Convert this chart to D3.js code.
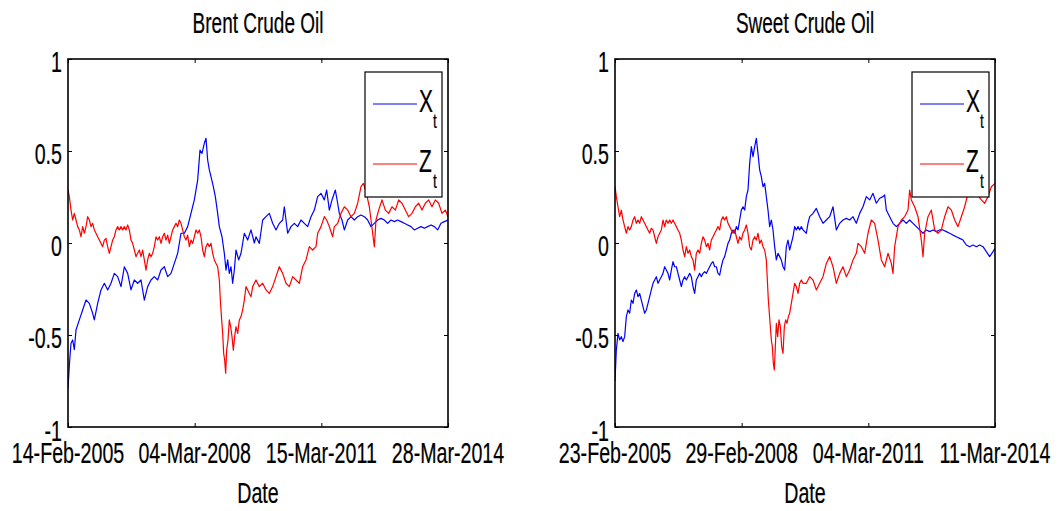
<!DOCTYPE html>
<html><head><meta charset="utf-8">
<script src="https://cdn.jsdelivr.net/npm/d3@7/dist/d3.min.js"></script>
<style>html,body{margin:0;padding:0;background:#fff;}svg{display:block;}</style>
</head><body>
<svg id="chart" width="1060" height="511"></svg>
<script>
// ---------- DATA ----------
const titles = ["Brent Crude Oil", "Sweet Crude Oil"];
const xTickLabelsBrent = ["14-Feb-2005", "04-Mar-2008", "15-Mar-2011", "28-Mar-2014"];
const xTickLabelsSweet = ["23-Feb-2005", "29-Feb-2008", "04-Mar-2011", "11-Mar-2014"];
const xTickObs = [0, 760, 1520, 2280];
const yTicks = [-1, -0.5, 0, 0.5, 1];
const seriesNames = ["X", "Z"];
const nObs = 2280;

// [observation index, value]
const brentX = [[0,-0.79],[10,-0.64],[18,-0.545],[28,-0.527],[38,-0.58],[48,-0.473],[68,-0.418],[88,-0.364],[108,-0.31],[128,-0.328],[148,-0.382],[158,-0.418],[178,-0.328],[198,-0.255],[218,-0.219],[238,-0.255],[258,-0.219],[278,-0.165],[298,-0.183],[318,-0.237],[338,-0.129],[358,-0.165],[378,-0.255],[398,-0.201],[418,-0.219],[438,-0.201],[458,-0.31],[478,-0.237],[498,-0.201],[518,-0.183],[538,-0.201],[558,-0.147],[578,-0.129],[598,-0.183],[618,-0.165],[638,-0.111],[658,-0.056],[678,0.053],[698,0.053],[718,0.089],[738,0.161],[758,0.234],[778,0.342],[792,0.505],[804,0.487],[818,0.542],[828,0.569],[838,0.451],[848,0.397],[858,0.361],[872,0.306],[884,0.252],[898,0.161],[908,0.089],[924,0.034],[938,-0.056],[948,-0.147],[958,-0.092],[968,-0.165],[978,-0.129],[988,-0.219],[998,-0.147],[1008,-0.038],[1024,-0.092],[1038,-0.056],[1058,0.053],[1078,0.016],[1098,0.071],[1118,0.0],[1128,0.034],[1148,-0.002],[1168,0.125],[1188,0.143],[1208,0.161],[1228,0.107],[1248,0.071],[1268,0.107],[1288,0.125],[1298,0.197],[1318,0.053],[1338,0.089],[1358,0.107],[1378,0.089],[1398,0.125],[1418,0.107],[1438,0.089],[1458,0.143],[1478,0.179],[1498,0.252],[1518,0.27],[1538,0.234],[1552,0.288],[1568,0.179],[1584,0.234],[1604,0.288],[1618,0.216],[1628,0.161],[1644,0.125],[1658,0.071],[1678,0.125],[1698,0.143],[1718,0.125],[1738,0.143],[1758,0.152],[1778,0.143],[1798,0.125],[1818,0.089],[1838,0.107],[1858,0.125],[1878,0.134],[1898,0.125],[1918,0.107],[1938,0.125],[1958,0.116],[1978,0.125],[1998,0.116],[2018,0.107],[2038,0.098],[2058,0.089],[2078,0.071],[2098,0.08],[2118,0.089],[2138,0.08],[2158,0.089],[2178,0.098],[2198,0.089],[2218,0.071],[2238,0.107],[2258,0.116],[2280,0.125]];

const brentZ = [[0,0.29],[8,0.252],[18,0.179],[28,0.125],[38,0.161],[48,0.125],[58,0.089],[68,0.071],[78,0.034],[88,0.089],[98,0.053],[108,0.089],[118,0.143],[128,0.125],[138,0.089],[148,0.107],[158,0.071],[168,0.053],[178,0.034],[188,0.016],[198,-0.002],[208,-0.02],[218,0.016],[228,0.025],[238,-0.02],[248,-0.056],[258,-0.02],[268,0.016],[278,0.034],[288,0.071],[298,0.089],[308,0.071],[318,0.089],[328,0.071],[338,0.089],[348,0.071],[358,0.098],[368,0.071],[378,0.016],[388,-0.002],[398,-0.038],[408,-0.074],[418,-0.056],[428,-0.038],[438,-0.074],[448,-0.038],[458,-0.092],[468,-0.147],[478,-0.092],[488,-0.056],[498,-0.074],[508,-0.056],[518,-0.02],[528,0.034],[538,0.016],[548,0.034],[558,-0.002],[568,0.034],[578,0.053],[588,0.016],[598,0.043],[608,-0.002],[618,0.034],[628,0.071],[638,0.089],[648,0.107],[658,0.089],[668,0.125],[678,0.107],[688,0.071],[698,0.034],[708,0.016],[718,0.043],[728,-0.02],[738,0.016],[748,-0.002],[758,0.034],[768,0.071],[778,0.053],[788,0.071],[798,0.034],[808,-0.038],[818,-0.074],[828,-0.02],[838,-0.002],[848,-0.02],[858,-0.002],[868,-0.056],[878,-0.092],[888,-0.111],[898,-0.129],[908,-0.201],[914,-0.31],[922,-0.418],[928,-0.491],[934,-0.6],[940,-0.636],[946,-0.708],[952,-0.582],[960,-0.527],[968,-0.418],[976,-0.455],[984,-0.509],[992,-0.582],[1000,-0.509],[1008,-0.455],[1018,-0.491],[1028,-0.418],[1038,-0.4],[1048,-0.364],[1058,-0.31],[1068,-0.237],[1078,-0.255],[1088,-0.274],[1098,-0.292],[1108,-0.237],[1118,-0.219],[1128,-0.201],[1148,-0.237],[1168,-0.219],[1188,-0.255],[1208,-0.274],[1228,-0.237],[1248,-0.183],[1268,-0.129],[1288,-0.165],[1308,-0.219],[1328,-0.237],[1348,-0.183],[1368,-0.201],[1388,-0.219],[1408,-0.129],[1428,-0.092],[1448,-0.02],[1468,-0.038],[1488,-0.02],[1498,0.053],[1518,0.089],[1538,0.143],[1552,0.125],[1568,0.089],[1588,0.034],[1598,0.089],[1618,0.107],[1638,0.161],[1658,0.197],[1678,0.179],[1698,0.143],[1718,0.161],[1738,0.216],[1758,0.306],[1772,0.324],[1788,0.279],[1808,0.197],[1828,0.053],[1838,-0.02],[1848,0.125],[1864,0.179],[1884,0.234],[1904,0.179],[1924,0.161],[1944,0.197],[1964,0.179],[1984,0.234],[2004,0.216],[2024,0.179],[2044,0.143],[2064,0.161],[2084,0.197],[2104,0.216],[2124,0.179],[2144,0.216],[2164,0.234],[2184,0.197],[2204,0.234],[2224,0.216],[2244,0.161],[2264,0.179],[2280,0.143]];

const sweetX = [[0,-0.75],[8,-0.582],[18,-0.491],[28,-0.527],[38,-0.509],[48,-0.536],[58,-0.509],[68,-0.4],[78,-0.364],[88,-0.382],[98,-0.31],[108,-0.328],[118,-0.274],[128,-0.255],[138,-0.292],[148,-0.274],[158,-0.31],[168,-0.346],[178,-0.382],[188,-0.364],[198,-0.328],[208,-0.292],[218,-0.255],[228,-0.219],[238,-0.201],[248,-0.183],[258,-0.219],[268,-0.201],[278,-0.183],[288,-0.165],[298,-0.129],[308,-0.147],[318,-0.165],[328,-0.201],[338,-0.147],[348,-0.101],[358,-0.129],[368,-0.129],[378,-0.165],[388,-0.201],[398,-0.237],[408,-0.201],[418,-0.183],[428,-0.201],[438,-0.183],[448,-0.165],[458,-0.183],[468,-0.237],[478,-0.274],[488,-0.201],[498,-0.183],[508,-0.165],[518,-0.183],[528,-0.165],[538,-0.156],[548,-0.165],[558,-0.147],[568,-0.129],[578,-0.111],[588,-0.101],[598,-0.129],[608,-0.129],[618,-0.165],[628,-0.174],[638,-0.129],[648,-0.092],[658,-0.074],[668,-0.038],[678,-0.002],[688,0.016],[698,0.053],[708,0.071],[718,0.053],[728,0.089],[738,0.071],[748,0.125],[758,0.179],[768,0.197],[778,0.179],[788,0.252],[798,0.288],[808,0.433],[818,0.524],[828,0.469],[838,0.524],[848,0.569],[858,0.487],[868,0.397],[878,0.361],[888,0.306],[898,0.324],[908,0.252],[918,0.179],[928,0.089],[938,0.125],[948,0.071],[958,-0.02],[968,-0.092],[978,-0.056],[988,-0.074],[998,-0.092],[1008,-0.129],[1018,-0.147],[1028,-0.02],[1038,0.016],[1048,-0.038],[1058,-0.002],[1068,0.034],[1078,0.089],[1088,0.071],[1098,0.089],[1108,0.071],[1118,0.089],[1128,0.071],[1148,0.053],[1158,0.107],[1168,0.143],[1188,0.161],[1208,0.188],[1228,0.143],[1248,0.107],[1268,0.125],[1288,0.143],[1308,0.197],[1328,0.071],[1348,0.107],[1368,0.125],[1388,0.134],[1408,0.125],[1428,0.143],[1448,0.107],[1468,0.161],[1488,0.197],[1508,0.252],[1528,0.234],[1548,0.27],[1568,0.216],[1588,0.243],[1608,0.252],[1618,0.261],[1628,0.179],[1648,0.143],[1668,0.107],[1688,0.089],[1708,0.107],[1728,0.125],[1748,0.107],[1768,0.125],[1788,0.107],[1808,0.089],[1828,0.071],[1848,0.053],[1868,0.071],[1888,0.062],[1908,0.071],[1928,0.062],[1948,0.071],[1968,0.071],[1988,0.062],[2008,0.053],[2028,0.043],[2048,0.034],[2068,0.025],[2088,0.016],[2108,-0.011],[2128,-0.02],[2148,-0.011],[2168,-0.02],[2188,-0.011],[2208,-0.02],[2228,-0.047],[2248,-0.074],[2268,-0.047],[2280,-0.029]];

const sweetZ = [[0,0.306],[8,0.252],[18,0.197],[28,0.143],[38,0.179],[48,0.125],[58,0.089],[68,0.053],[78,0.089],[88,0.071],[98,0.089],[108,0.125],[118,0.143],[128,0.107],[138,0.125],[148,0.107],[158,0.143],[168,0.125],[178,0.107],[188,0.089],[198,0.071],[208,0.053],[218,0.08],[228,0.071],[238,0.034],[248,-0.002],[258,0.034],[268,0.053],[278,0.071],[288,0.125],[298,0.089],[308,0.125],[318,0.107],[328,0.125],[338,0.107],[348,0.125],[358,0.107],[368,0.089],[378,0.071],[388,0.053],[398,0.016],[408,-0.038],[418,-0.074],[428,-0.02],[438,-0.056],[448,-0.038],[458,-0.074],[468,-0.092],[478,-0.147],[488,-0.056],[498,-0.038],[508,-0.056],[518,-0.002],[528,0.034],[538,0.016],[548,-0.02],[558,-0.002],[568,-0.038],[578,0.016],[588,0.034],[598,0.053],[608,0.071],[618,0.089],[628,0.071],[638,0.125],[648,0.143],[658,0.125],[668,0.143],[678,0.107],[688,0.089],[698,0.071],[708,0.053],[718,0.071],[728,0.034],[738,-0.002],[748,0.034],[758,0.016],[768,0.053],[778,0.071],[788,0.098],[798,0.053],[808,-0.02],[818,-0.038],[828,0.016],[838,0.034],[848,0.016],[858,0.053],[868,-0.002],[878,0.016],[888,-0.02],[898,-0.038],[908,-0.092],[914,-0.201],[920,-0.31],[926,-0.382],[932,-0.455],[938,-0.527],[944,-0.563],[950,-0.654],[956,-0.69],[962,-0.563],[968,-0.437],[976,-0.509],[984,-0.418],[992,-0.455],[1000,-0.563],[1008,-0.6],[1016,-0.455],[1024,-0.418],[1032,-0.437],[1040,-0.4],[1048,-0.382],[1058,-0.328],[1068,-0.274],[1078,-0.219],[1088,-0.237],[1098,-0.274],[1108,-0.219],[1118,-0.201],[1128,-0.219],[1148,-0.219],[1168,-0.183],[1188,-0.201],[1208,-0.255],[1228,-0.219],[1248,-0.183],[1268,-0.111],[1288,-0.074],[1308,-0.129],[1328,-0.219],[1348,-0.165],[1368,-0.129],[1388,-0.183],[1408,-0.147],[1428,-0.092],[1448,-0.056],[1458,-0.002],[1478,-0.02],[1498,-0.056],[1518,0.053],[1538,0.125],[1558,0.107],[1578,0.016],[1598,-0.092],[1618,-0.129],[1638,-0.056],[1658,-0.111],[1668,-0.165],[1678,-0.02],[1698,0.089],[1718,0.125],[1738,0.143],[1758,0.179],[1768,0.288],[1778,0.234],[1798,0.197],[1818,0.143],[1838,0.016],[1848,-0.074],[1858,0.053],[1878,0.143],[1898,0.179],[1918,0.071],[1938,0.053],[1958,0.071],[1978,0.143],[1998,0.197],[2018,0.179],[2038,0.125],[2058,0.089],[2078,0.143],[2098,0.197],[2118,0.27],[2138,0.252],[2168,0.27],[2198,0.234],[2218,0.216],[2238,0.252],[2258,0.306],[2280,0.324]];

// ---------- LAYOUT ----------
const svg = d3.select("#chart");
const FONT = "'Liberation Sans', Arial, sans-serif";
const SX = 0.655;            // horizontal condensation of the original rendering
const panels = [
  {left: 68,  title: titles[0], xLabels: xTickLabelsBrent, X: brentX, Z: brentZ},
  {left: 615, title: titles[1], xLabels: xTickLabelsSweet, X: sweetX, Z: sweetZ}
];
const plotTop = 59, plotBottom = 427, plotWidth = 380;
const colors = {X: "#0000ff", Z: "#ff0000"};

function label(g, x, y, str, anchor, size) {
  return g.append("text")
    .attr("transform", `translate(${x},${y}) scale(${SX},1)`)
    .attr("text-anchor", anchor)
    .attr("font-family", FONT)
    .attr("font-size", size)
    .attr("fill", "#000")
    .attr("stroke", "#000").attr("stroke-width", 0.25)
    .text(str);
}

const yScale = d3.scaleLinear().domain([-1, 1]).range([plotBottom, plotTop]);

panels.forEach((p, i) => {
  const xScale = d3.scaleLinear().domain([0, nObs]).range([p.left, p.left + plotWidth]);
  const g = svg.append("g");
  const clipId = "clip" + i;
  svg.append("clipPath").attr("id", clipId)
    .append("rect").attr("x", p.left).attr("y", plotTop).attr("width", plotWidth).attr("height", plotBottom - plotTop);

  const line = d3.line().x(d => xScale(d[0])).y(d => yScale(d[1]));
  const lines = g.append("g").attr("clip-path", `url(#${clipId})`);
  lines.append("path").datum(p.X).attr("d", line).attr("fill", "none")
    .attr("stroke", colors.X).attr("stroke-width", 1.2).attr("stroke-linejoin", "round");
  lines.append("path").datum(p.Z).attr("d", line).attr("fill", "none")
    .attr("stroke", colors.Z).attr("stroke-width", 1.2).attr("stroke-linejoin", "round");

  // axes (ticks pointing inwards on all four sides)
  const tick = 4;
  const axB = d3.axisBottom(xScale).tickValues(xTickObs).tickSizeInner(-tick).tickSizeOuter(0).tickFormat("");
  const axT = d3.axisTop(xScale).tickValues(xTickObs).tickSizeInner(-tick).tickSizeOuter(0).tickFormat("");
  const axL = d3.axisLeft(yScale).tickValues(yTicks).tickSizeInner(-tick).tickSizeOuter(0).tickFormat("");
  const axR = d3.axisRight(yScale).tickValues(yTicks).tickSizeInner(-tick).tickSizeOuter(0).tickFormat("");
  [[axB, `translate(0,${plotBottom})`], [axT, `translate(0,${plotTop})`],
   [axL, `translate(${p.left},0)`], [axR, `translate(${p.left + plotWidth},0)`]].forEach(([ax, tr]) => {
    const a = g.append("g").attr("transform", tr).call(ax);
    a.select(".domain").remove();
    a.selectAll(".tick line").attr("stroke", "#000").attr("stroke-width", 1);
  });
  g.append("rect").attr("x", p.left).attr("y", plotTop).attr("width", plotWidth).attr("height", plotBottom - plotTop)
    .attr("fill", "none").attr("stroke", "#000").attr("stroke-width", 1.6);

  // tick labels
  yTicks.forEach(v => label(g, p.left - 6, yScale(v) + 12.5 + (v === -1 ? 1 : 0), String(v), "end", 30));
  xTickObs.forEach((o, k) => label(g, xScale(o), 463, p.xLabels[k], "middle", 30));
  label(g, p.left + plotWidth / 2, 503, "Date", "middle", 30);
  label(g, p.left + plotWidth / 2, 33, p.title, "middle", 29);

  // legend
  const lx = p.left + plotWidth - 83, ly = 72, lw = 77, lh = 125;
  const lg = g.append("g");
  lg.append("rect").attr("x", lx).attr("y", ly).attr("width", lw).attr("height", lh)
    .attr("fill", "#fff").attr("stroke", "#000").attr("stroke-width", 1.2);
  seriesNames.forEach((name, k) => {
    const cy = ly + 32 + k * 60;
    lg.append("line").attr("x1", lx + 8).attr("x2", lx + 52).attr("y1", cy).attr("y2", cy)
      .attr("stroke", colors[name]).attr("stroke-width", 1);
    label(lg, lx + 54, cy + 8, name, "start", 32);
    label(lg, lx + 68, cy + 24, "t", "start", 21);
  });
});
</script>
</body></html>
